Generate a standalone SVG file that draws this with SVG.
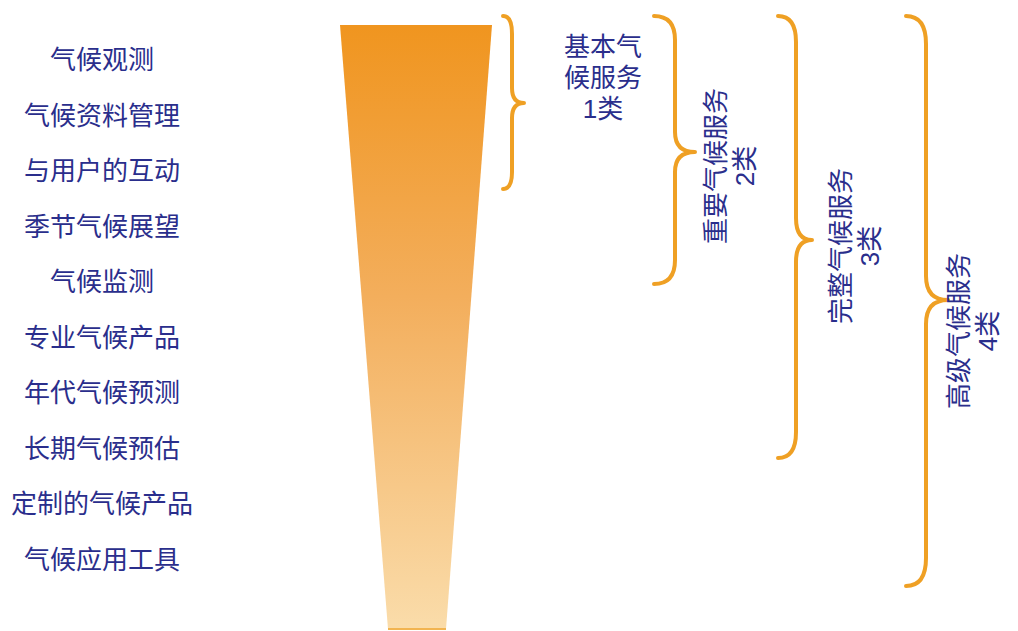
<svg xmlns="http://www.w3.org/2000/svg" width="1018" height="631" viewBox="0 0 1018 631">
<defs>
<linearGradient id="funnel" x1="0" y1="0" x2="0" y2="1">
<stop offset="0" stop-color="#F0951F"/>
<stop offset="0.45" stop-color="#F3AE5C"/>
<stop offset="1" stop-color="#FADCAA"/>
</linearGradient>
<style>
text{font-family:"Liberation Sans","Noto Sans CJK SC",sans-serif;fill:#2A2E8C;font-size:26px;text-anchor:middle}
.brace{fill:none;stroke:#EFA024;stroke-width:4;stroke-linecap:round;stroke-linejoin:round}
</style>
</defs>
<rect width="1018" height="631" fill="#FFFFFF"/>
<g id="items">
<text x="102" y="69">气候观测</text>
<text x="102" y="125">气候资料管理</text>
<text x="102" y="180">与用户的互动</text>
<text x="102" y="236">季节气候展望</text>
<text x="102" y="291">气候监测</text>
<text x="102" y="347">专业气候产品</text>
<text x="102" y="402">年代气候预测</text>
<text x="102" y="458">长期气候预估</text>
<text x="102" y="513">定制的气候产品</text>
<text x="102" y="569">气候应用工具</text>
</g>
<g id="funnel-shape">
<polygon points="340,25 492,25 446,629 388,629" fill="url(#funnel)"/>
<path d="M388,629 L446,629" stroke="#F2B451" stroke-width="2"/>
</g>
<g id="connectors">
<path class="brace" d="M503,16 Q512,16 512,34 L512,88 Q512,103 524,103 Q512,103 512,118 L512,172 Q512,189 503,189"/>
<path class="brace" d="M654,16 Q675,16 675,40 L675,132 Q675,152 695,152 Q675,152 675,172 L675,260 Q675,284 654,284"/>
<path class="brace" d="M778,16 Q796,16 796,42 L796,218 Q796,240 812,240 Q796,240 796,262 L796,432 Q796,458 778,458"/>
<path class="brace" d="M906,16 Q926,16 926,44 L926,276 Q926,300 948,300 Q926,300 926,324 L926,558 Q926,586 906,586"/>
</g>
<g id="label-1">
<text x="603" y="56">基本气</text>
<text x="603" y="87">候服务</text>
<text x="603" y="118">1类</text>
</g>
<g id="label-2">
<text transform="translate(716,166) rotate(-90)" y="9">重要气候服务</text>
<text transform="translate(745,166) rotate(-90)" y="9">2类</text>
</g>
<g id="label-3">
<text transform="translate(841,246) rotate(-90)" y="9">完整气候服务</text>
<text transform="translate(870,246) rotate(-90)" y="9">3类</text>
</g>
<g id="label-4">
<text transform="translate(959,331) rotate(-90)" y="9">高级气候服务</text>
<text transform="translate(988,331) rotate(-90)" y="9">4类</text>
</g>
</svg>
